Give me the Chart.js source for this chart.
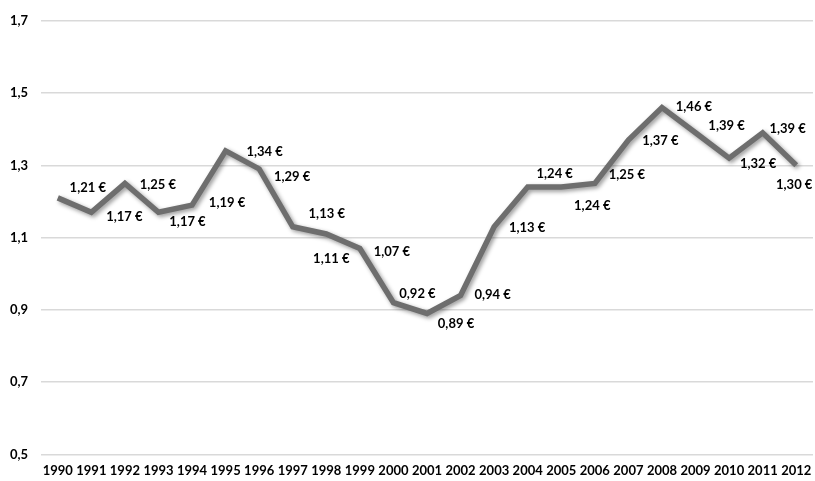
<!DOCTYPE html>
<html>
<head>
<meta charset="utf-8">
<script src="https://cdn.jsdelivr.net/npm/chart.js@4"></script>
<style>
html,body{margin:0;padding:0;background:#fff;}
#wrap{width:815px;height:481px;position:relative;}
</style>
</head>
<body>
<div id="wrap"><canvas id="c" width="815" height="481"></canvas></div>
<script>
// ---- data ----
const years = ['1990','1991','1992','1993','1994','1995','1996','1997','1998','1999','2000','2001','2002','2003','2004','2005','2006','2007','2008','2009','2010','2011','2012'];
const prices = [1.21,1.17,1.25,1.17,1.19,1.34,1.29,1.13,1.11,1.07,0.92,0.89,0.94,1.13,1.24,1.24,1.25,1.37,1.46,1.39,1.32,1.39,1.30];
const yTicks = [0.5,0.7,0.9,1.1,1.3,1.5,1.7];

// ---- label placement (layout only) ----
const labelDx = [30,33,33,29,35,39,33,34,5,32,24,29,32,33,27,31,32,32,32,31,29,25,-2];
const labelDy = [-10,5,1,10,-2,1,8,-13,25,3,-9,10,-1,1,-13,19,-9,1,-1,-7,6,-4,19];

const fmt = v => v.toFixed(2).replace('.', ',') + ' €';
const FONT = 'Lato, "Open Sans", sans-serif';

const shadowPlugin = {
  id: 'shadow',
  beforeDatasetDraw(chart) {
    const ctx = chart.ctx;
    ctx.save();
    ctx.shadowColor = 'rgba(0,0,0,0.4)';
    ctx.shadowBlur = 4;
    ctx.shadowOffsetX = 2;
    ctx.shadowOffsetY = 2;
  },
  afterDatasetDraw(chart) {
    chart.ctx.restore();
  }
};

const labelPlugin = {
  id: 'valueLabels',
  afterDatasetsDraw(chart) {
    const ctx = chart.ctx;
    const meta = chart.getDatasetMeta(0);
    ctx.save();
    ctx.font = 'bold 13px ' + FONT;
    ctx.fillStyle = '#000';
    ctx.textAlign = 'center';
    ctx.textBaseline = 'middle';
    meta.data.forEach((pt, i) => {
      ctx.fillText(fmt(prices[i]), pt.x + labelDx[i], pt.y + labelDy[i]);
    });
    ctx.restore();
  }
};

new Chart(document.getElementById('c'), {
  type: 'line',
  data: {
    labels: years,
    datasets: [{
      data: prices,
      borderColor: '#6e6e6e',
      borderWidth: 5.5,
      pointRadius: 0,
      tension: 0,
      fill: false,
      borderJoinStyle: 'miter'
    }]
  },
  options: {
    responsive: false,
    animation: false,
    events: [],
    layout: { padding: { top: 13, right: 2, left: 9, bottom: 2 } },
    plugins: { legend: { display: false }, tooltip: { enabled: false } },
    scales: {
      x: {
        offset: true,
        afterFit(axis) { axis.paddingLeft = 0; axis.paddingRight = 0; },
        grid: { display: true, drawOnChartArea: false, drawTicks: true, tickLength: 9, tickColor: 'rgba(0,0,0,0)', color: 'rgba(0,0,0,0)' },
        border: { display: false },
        ticks: {
          color: '#000',
          font: { family: FONT, weight: 'bold', size: 13 },
          maxRotation: 0,
          autoSkip: false,
          padding: 0
        }
      },
      y: {
        min: yTicks[0],
        max: yTicks[yTicks.length - 1],
        afterBuildTicks(axis) { axis.ticks = yTicks.map(v => ({ value: v })); },
        afterFit(axis) { axis.width = 32; },
        grid: { color: '#d9d9d9', lineWidth: 1.5, drawTicks: false },
        border: { display: false },
        ticks: {
          color: '#000',
          font: { family: FONT, weight: 'bold', size: 13 },
          padding: 13,
          callback: v => Number(v).toFixed(1).replace('.', ',')
        }
      }
    }
  },
  plugins: [shadowPlugin, labelPlugin]
});
</script>
</body>
</html>
